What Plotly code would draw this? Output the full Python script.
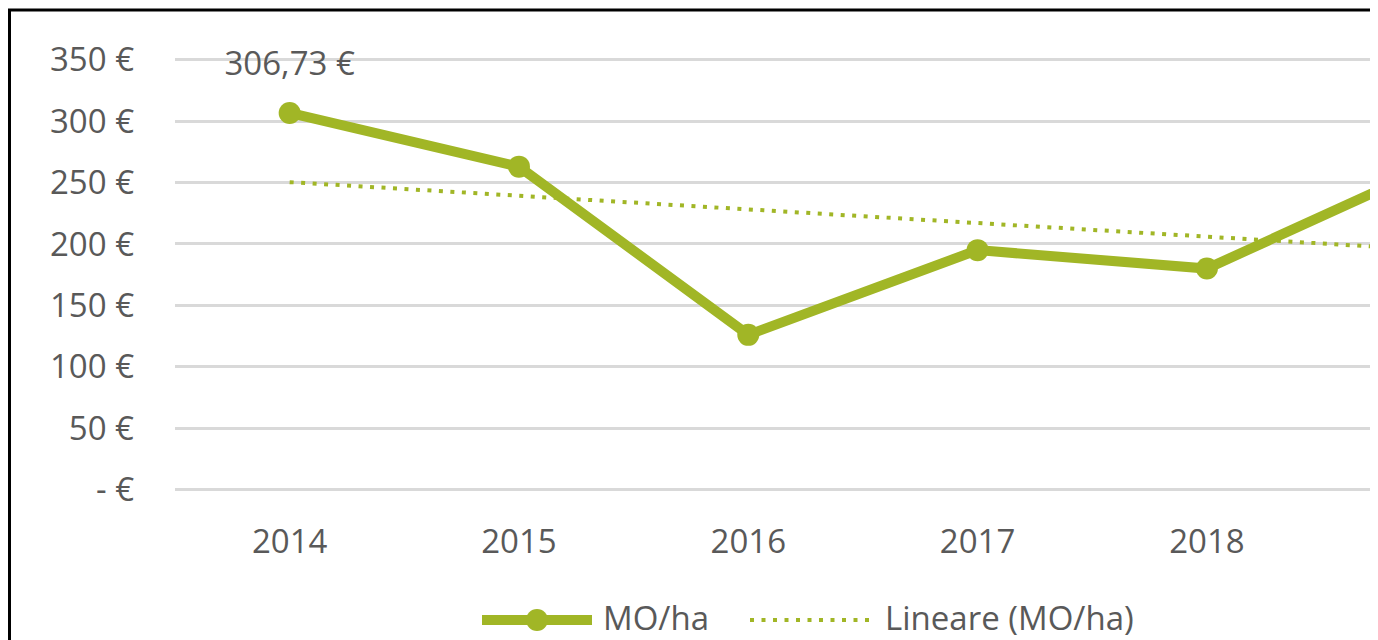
import numpy as np
import plotly.graph_objects as go

# ---- data ----
years = ["2014", "2015", "2016", "2017", "2018", "2019"]
mo_ha = [306.73, 263.0, 126.0, 195.0, 180.0, 265.0]
label_years = ["2014", "2019"]
label_values = [306.73, 265.0]
label_texts = ["306,73 €", "265,00 €"]
y_tickvals = [0, 50, 100, 150, 200, 250, 300, 350]
y_ticktext = ["- €", "50 €", "100 €", "150 €", "200 €", "250 €", "300 €", "350 €"]
series_name = "MO/ha"
trend_name = "Lineare (MO/ha)"

# linear trend (Excel "Lineare") computed from the series
idx = np.arange(len(years))
slope, intercept = np.polyfit(idx, mo_ha, 1)
trend = list(slope * idx + intercept)

GREEN = "#A1B626"
GRID = "#D9D9D9"
TEXT = "#595959"
FONT = "Open Sans"

OFF = 8  # page body margin
W, H = 1378 - OFF, 640 - OFF
ML, MR, MT, MB = 167, 6, 15, 148
PW, PH = W - ML - MR, H - MT - MB


def px_x(px):
    return (px - OFF - ML) / PW


def px_y(py):
    return 1 - (py - OFF - MT) / PH


fig = go.Figure()

fig.add_trace(go.Scatter(
    x=years, y=trend, mode="lines", name=trend_name,
    line=dict(color=GREEN, width=4, dash="4px,7.5px"),
    cliponaxis=True, hoverinfo="skip", showlegend=False,
))
fig.add_trace(go.Scatter(
    x=years, y=mo_ha, mode="lines+markers", name=series_name,
    line=dict(color=GREEN, width=10),
    marker=dict(color=GREEN, size=22),
    cliponaxis=True, showlegend=False,
))
fig.add_trace(go.Scatter(
    x=label_years, y=label_values, mode="markers+text", text=label_texts,
    textposition="top center",
    textfont=dict(family=FONT, size=33, color=TEXT),
    marker=dict(size=46, color="rgba(0,0,0,0)"),
    cliponaxis=True, hoverinfo="skip", showlegend=False,
))

shapes = [
    # outer black frame (bottom edge is cut off)
    dict(type="rect", xref="paper", yref="paper",
         x0=px_x(9.5), x1=px_x(1372.5), y0=px_y(700), y1=px_y(10),
         line=dict(color="black", width=3), fillcolor="rgba(0,0,0,0)", layer="above"),
    # legend: series line + marker
    dict(type="line", xref="paper", yref="paper",
         x0=px_x(482), x1=px_x(592), y0=px_y(620), y1=px_y(620),
         line=dict(color=GREEN, width=10)),
    dict(type="circle", xref="paper", yref="paper",
         x0=px_x(526), x1=px_x(548), y0=px_y(631), y1=px_y(609),
         line=dict(color=GREEN, width=0), fillcolor=GREEN),
    # legend: dotted trend
    dict(type="line", xref="paper", yref="paper",
         x0=px_x(750), x1=px_x(870), y0=px_y(620), y1=px_y(620),
         line=dict(color=GREEN, width=4, dash="4px,7.5px")),
]

annotations = [
    dict(text=series_name, xref="paper", yref="paper", x=px_x(601), y=px_y(617),
         xanchor="left", yanchor="middle", showarrow=False,
         font=dict(family=FONT, size=33, color=TEXT)),
    dict(text=trend_name, xref="paper", yref="paper", x=px_x(883), y=px_y(617),
         xanchor="left", yanchor="middle", showarrow=False,
         font=dict(family=FONT, size=33, color=TEXT)),
]

fig.update_layout(
    width=W, height=H,
    margin=dict(l=ML, r=MR, t=MT, b=MB, pad=0),
    paper_bgcolor="white", plot_bgcolor="white",
    font=dict(family=FONT, size=33, color=TEXT),
    showlegend=False,
    shapes=shapes,
    annotations=annotations,
    xaxis=dict(
        type="category", range=[-0.5, 4.72],
        showgrid=False, zeroline=False, showline=False, ticks="",
        ticklabelstandoff=27,
        tickfont=dict(family=FONT, size=33, color=TEXT),
    ),
    yaxis=dict(
        range=[-2, 380], tickvals=y_tickvals, ticktext=y_ticktext,
        showgrid=True, gridcolor=GRID, gridwidth=3,
        zeroline=False, showline=False, ticks="",
        ticklabelstandoff=40,
        tickfont=dict(family=FONT, size=33, color=TEXT),
    ),
)

fig.write_html("out.html")
